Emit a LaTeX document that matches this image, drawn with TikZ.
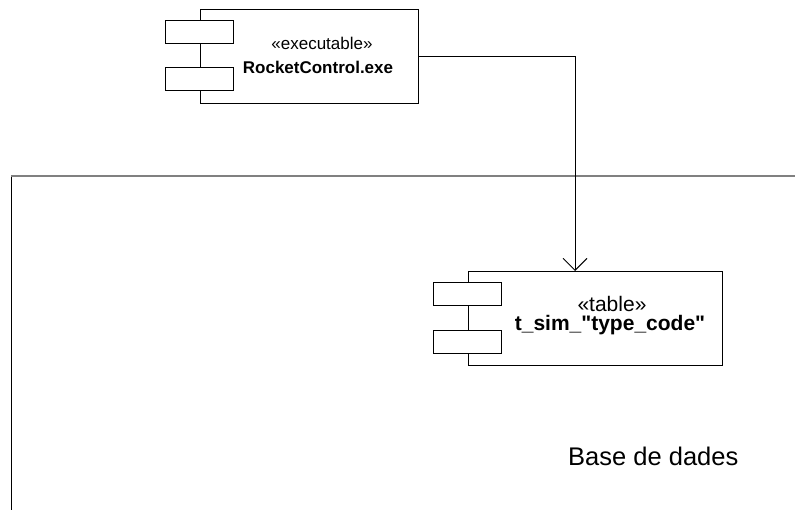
\documentclass[tikz,border=0pt]{standalone}
\usepackage{fontspec}
\newfontfamily\uifont{Liberation Sans}
\usetikzlibrary{arrows.meta}
\newcommand\uscore{\symbol{95}}
\newcommand\dq{\symbol{34}}
\tikzset{
  compbody/.style={draw=black, line width=0.9pt, fill=white, inner sep=0pt, anchor=north west},
  portbox/.style={draw=black, line width=0.9pt, fill=white, inner sep=0pt, anchor=north west,
    minimum width=68pt, minimum height=23pt},
  stereo/.style={font=\uifont\fontsize{#1}{#1}\selectfont, inner sep=0pt, anchor=base},
  dep/.style={draw=black, line width=0.9pt, -{Straight Barb[length=12pt,width=24pt,line width=0.9pt]}},
}
\begin{document}
\begin{tikzpicture}[x=1pt, y=-1pt]
  \useasboundingbox (0,0) rectangle (795,510);

  % package frame
  \draw[black, line width=1pt] (11,176) -- (11,510);
  \draw[gray, line width=1.6pt] (11,176) -- (795,176);

  % executable component
  \node[compbody, minimum width=218pt, minimum height=94pt] (exe) at (200,9) {};
  \node[portbox] (exeporta) at (165,20) {};
  \node[portbox] (exeportb) at (165,67) {};
  \node[stereo=17] (exestereo) at (322,50) {«executable»};
  \node[stereo=17] (exename) at (318,74) {\bfseries RocketControl.exe};

  % table component
  \node[compbody, minimum width=254pt, minimum height=94pt] (tab) at (468,271) {};
  \node[portbox] (tabporta) at (433,282) {};
  \node[portbox] (tabportb) at (433,330) {};
  \node[stereo=21] (tabstereo) at (612,312) {«table»};
  \node[stereo=21] (tabname) at (610,331) {\bfseries t\uscore sim\uscore\dq type\uscore code\dq};

  % dependency
  \coordinate (tabin) at (575,271);
  \draw[dep] (exe.east) -| (tabin);

  % package name
  \node[font=\uifont\fontsize{25.5}{25.5}\selectfont, inner sep=0pt, anchor=base west] (pkgname) at (568,465) {Base de dades};
\end{tikzpicture}
\end{document}
